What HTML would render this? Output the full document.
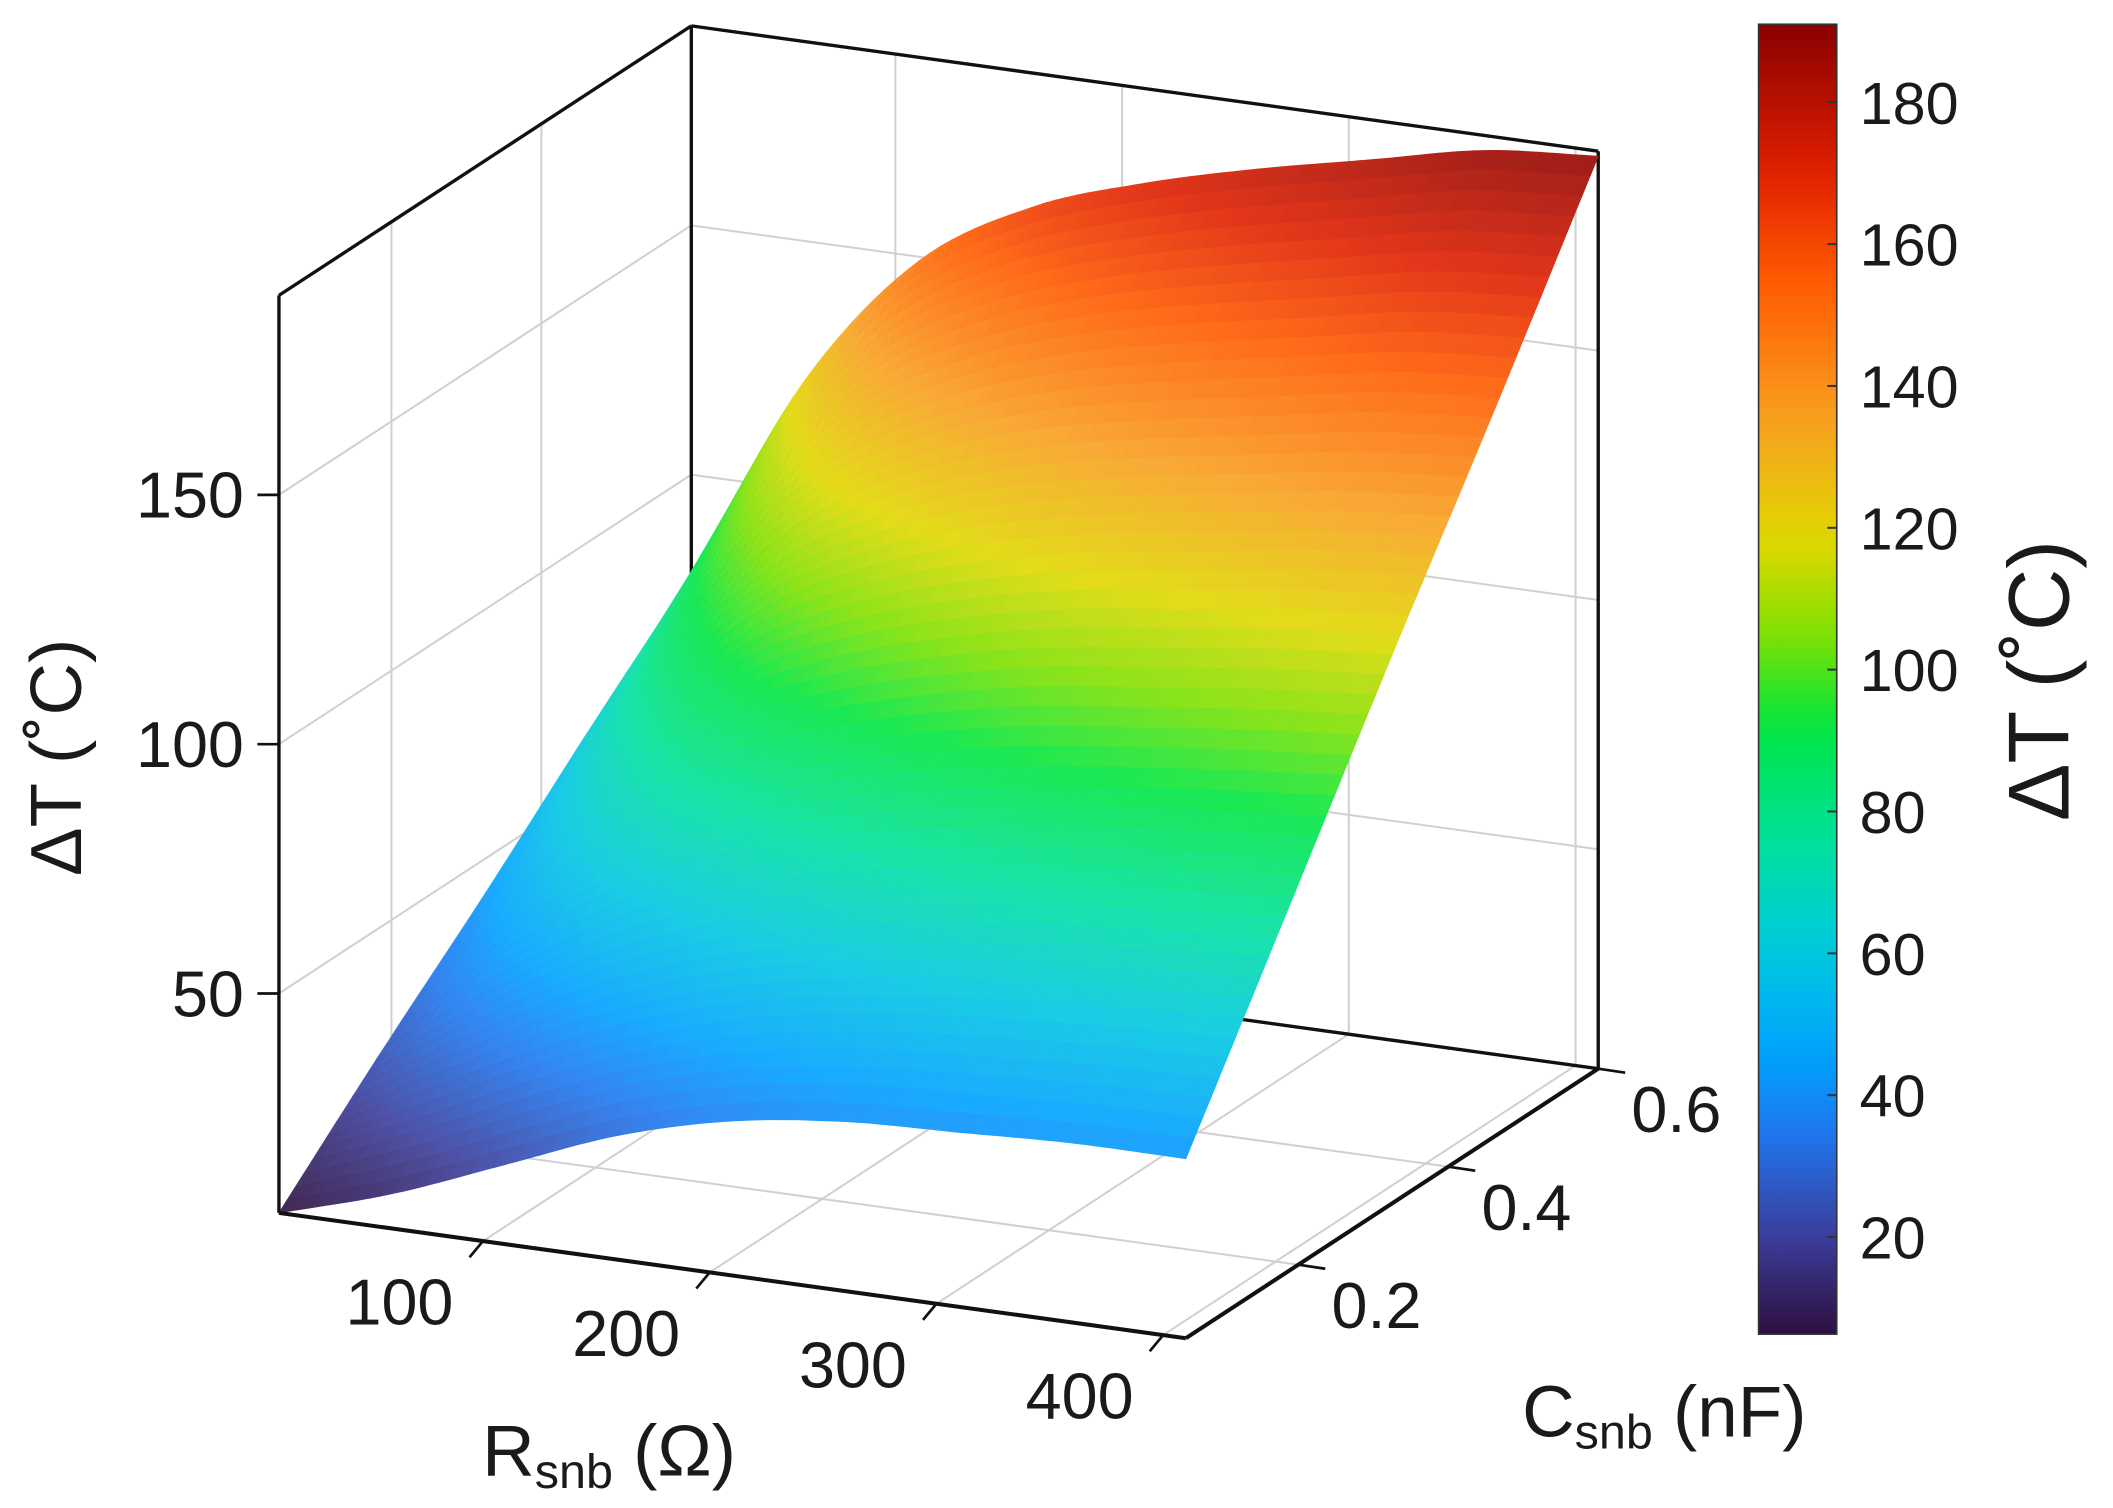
<!DOCTYPE html>
<html><head><meta charset="utf-8">
<style>
html,body{margin:0;padding:0;background:#fff;}
svg{display:block;}
text{font-family:"Liberation Sans",Arial,sans-serif;fill:#1a1a1a;}
</style></head>
<body>
<svg id="chart" width="2113" height="1508" viewBox="0 0 1568 1119" preserveAspectRatio="none" xmlns="http://www.w3.org/2000/svg">
<g id="back"></g>
<g id="surf"></g>
<g id="front"></g>
<g id="cbar"></g>
</svg>
<script>
// ---- data ----
const rValues = [10, 60, 110, 160, 210, 260, 310, 360, 410];      // R_snb (Ohm)
const cValues = [0.05, 0.1875, 0.325, 0.4625, 0.6];               // C_snb (nF)
const dTrow0 = [6, 13, 22, 31, 37, 40, 41, 42, 42];
const dTrow1 = [25, 40, 53, 62, 68, 72, 75, 77, 79];
const dTrow2 = [43, 66, 85, 96, 103, 108, 111, 114, 116];
const dTrow3 = [62, 93, 116, 129, 137, 142, 146, 150, 152];
const dTrow4 = [80, 122, 149, 163, 171, 177, 182, 187, 189];
const zTicks = [50, 100, 150];
const rTicks = [100, 200, 300, 400];
const cTicks = [0.2, 0.4, 0.6];
const cbarTicks = [20, 40, 60, 80, 100, 120, 140, 160, 180];
const zRange = [6, 190];
const rRange = [10, 410];
const cRange = [0.05, 0.6];
const cbarRange = [6.3, 191];

const dTgrid = [dTrow0, dTrow1, dTrow2, dTrow3, dTrow4];
const NS = "http://www.w3.org/2000/svg";
function rf(R){return (R-rRange[0])/(rRange[1]-rRange[0]);}
function cf(C){return (C-cRange[0])/(cRange[1]-cRange[0]);}
function proj(r,c,z){
  return [207+673*r+306*c, 900+93*r-200*c-3.7*(z-zRange[0])];
}
const cmapV=[6,20,35,45,60,75,92,105,118,135,155,170,191];
const cmapC=[[45,15,62],[59,61,154],[30,120,240],[0,160,255],[0,200,224],[0,224,160],[0,230,64],[128,224,0],[224,216,0],[248,160,32],[255,90,0],[224,32,0],[138,0,0]];
function color(v,light){
  let i=0; while(i<cmapV.length-2 && v>cmapV[i+1]) i++;
  let t=Math.max(0,Math.min(1,(v-cmapV[i])/(cmapV[i+1]-cmapV[i])));
  let c=cmapC[i].map((a,k)=>a+(cmapC[i+1][k]-a)*t);
  if(light) c=c.map(a=>a+(255-a)*light);
  return `rgb(${c.map(Math.round).join(',')})`;
}
function el(tag,attrs,parent){
  const e=document.createElementNS(NS,tag);
  for(const k in attrs) e.setAttribute(k,attrs[k]);
  parent.appendChild(e); return e;
}
function line(p,q,stroke,w,parent,name,dash){
  const e=el('line',{x1:p[0],y1:p[1],x2:q[0],y2:q[1],stroke:stroke,'stroke-width':w},parent);
  if(dash) e.setAttribute('stroke-dasharray',dash);
  
  
  return e;
}
function text(x,y,s,size,anchor,parent,name,extra){
  const e=el('text',{x:x,y:y,'font-size':size,'text-anchor':anchor},parent);
  e.innerHTML=s;
  if(extra) for(const k in extra) e.setAttribute(k,extra[k]);
  
  
  return e;
}
const back=document.getElementById('back'), surf=document.getElementById('surf'),
      front=document.getElementById('front'), cbar=document.getElementById('cbar');
const z0=zRange[0], z1=zRange[1], G='#d0d0d0';
rTicks.forEach(R=>{line(proj(rf(R),1,z0),proj(rf(R),1,z1),G,1.5,back,'back-wall-gridline');
  line(proj(rf(R),0,z0),proj(rf(R),1,z0),G,1.5,back,'floor-gridline');});
cTicks.forEach(C=>{line(proj(0,cf(C),z0),proj(0,cf(C),z1),G,1.5,back,'side-wall-gridline');
  line(proj(0,cf(C),z0),proj(1,cf(C),z0),G,1.5,back,'floor-gridline');});
zTicks.forEach(Z=>{line(proj(0,0,Z),proj(0,1,Z),G,1.5,back,'side-wall-gridline');
  line(proj(0,1,Z),proj(1,1,Z),G,1.5,back,'back-wall-gridline');});
const K='#111';
line(proj(0,1,z0),proj(0,1,z1),K,2.5,back,'back-vertical-edge');
line(proj(0,1,z1),proj(1,1,z1),K,2.5,back,'top-back-edge');
line(proj(0,0,z1),proj(0,1,z1),K,2.5,back,'top-left-edge');
line(proj(0,0,z0),proj(0,0,z1),K,2.5,back,'left-vertical-edge');
line(proj(1,1,z0),proj(1,1,z1),K,2.5,back,'right-vertical-edge');
line(proj(0,1,z0),proj(1,1,z0),K,2.5,back,'floor-back-edge');
line(proj(0,0,z0),proj(0,1,z0),K,1.5,back,'floor-left-edge','3,3');
// ---- surface (Catmull-Rom smoothing of data grid) ----
function cr(p0,p1,p2,p3,t){
  return 0.5*((2*p1)+(-p0+p2)*t+(2*p0-5*p1+4*p2-p3)*t*t+(-p0+3*p1-3*p2+p3)*t*t*t);
}
function interp1(vals,xs,x){
  const n=xs.length-1; let i=0; while(i<n-1 && x>xs[i+1]) i++;
  const t=(x-xs[i])/(xs[i+1]-xs[i]);
  const g=k=>vals[Math.max(0,Math.min(n,k))];
  const p0 = i===0 ? 2*vals[0]-vals[1] : g(i-1);
  const p3 = i+1===n ? 2*vals[n]-vals[n-1] : g(i+2);
  return cr(p0,g(i),g(i+1),p3,t);
}
function zAt(r,c){
  const R=rRange[0]+r*(rRange[1]-rRange[0]), C=cRange[0]+c*(cRange[1]-cRange[0]);
  const col=dTgrid.map(row=>interp1(row,rValues,R));
  return interp1(col,cValues,C);
}
const NR=80, NC=50;
for(let j=NC-1;j>=0;j--){
  for(let i=0;i<NR;i++){
    const ra=i/NR, rb=(i+1)/NR, ca=j/NC, cb=(j+1)/NC;
    const pts=[[ra,ca],[rb,ca],[rb,cb],[ra,cb]].map(([r,c])=>proj(r,c,zAt(r,c)));
    const zm=zAt((ra+rb)/2,(ca+cb)/2);
    const col=color(zm,0.1);
    const p=el('polygon',{points:pts.map(q=>q[0].toFixed(1)+','+q[1].toFixed(1)).join(' '),fill:col,stroke:col,'stroke-width':0.6},surf);
    
    
  }
}
// ---- foreground axes ----
line(proj(0,0,z0),proj(1,0,z0),K,3,front,'r-axis-line');
line(proj(1,0,z0),proj(1,1,z0),K,3,front,'c-axis-line');
zTicks.forEach(Z=>{const p=proj(0,0,Z);line([p[0]-16,p[1]],p,K,2,front,'z-tick');
  text(p[0]-26,p[1]+17,String(Z),48,'end',front,'z-tick-label');});
rTicks.forEach(R=>{const p=proj(rf(R),0,z0);line(p,[p[0]-10,p[1]+12],K,2,front,'r-tick');
  text(p[0]-62,p[1]+62,String(R),48,'middle',front,'r-tick-label');});
cTicks.forEach(C=>{const p=proj(1,cf(C),z0);line(p,[p[0]+20,p[1]+3],K,2,front,'c-tick');
  text(p[0]+58,p[1]+47,C.toFixed(1),48,'middle',front,'c-tick-label');});
text(60,562,'ΔT (˚C)',54,'middle',front,'z-axis-title',{transform:'rotate(-90 60 562)'});
text(452,1095,'R<tspan font-size="36" dy="9">snb</tspan><tspan dy="-9"> (Ω)</tspan>',54,'middle',front,'r-axis-title');
text(1235,1066,'C<tspan font-size="36" dy="9">snb</tspan><tspan dy="-9"> (nF)</tspan>',54,'middle',front,'c-axis-title');
// ---- colorbar ----
const cbX=1305, cbW=58, cbTop=18, cbBot=990;
function cbY(v){return cbBot-(v-cbarRange[0])/(cbarRange[1]-cbarRange[0])*(cbBot-cbTop);}
const defs=el('defs',{},cbar);
const lg=el('linearGradient',{id:'cg',x1:0,y1:1,x2:0,y2:0},defs);
for(let k=0;k<=40;k++){const v=cbarRange[0]+k/40*(cbarRange[1]-cbarRange[0]);
  el('stop',{offset:(k/40).toFixed(3),'stop-color':color(v,0)},lg);}
const rect=el('rect',{x:cbX,y:cbTop,width:cbW,height:cbBot-cbTop,fill:'url(#cg)',stroke:'#333','stroke-width':1.2},cbar);


cbarTicks.forEach(v=>{const y=cbY(v);line([cbX+cbW-7,y],[cbX+cbW,y],'#333',1.5,cbar,'colorbar-tick');
  text(cbX+cbW+17,y+16,String(v),44,'start',cbar,'colorbar-tick-label');});
text(1535,505,'ΔT (˚C)',64,'middle',cbar,'colorbar-title',{transform:'rotate(-90 1535 505)'});
</script>
</body></html>
